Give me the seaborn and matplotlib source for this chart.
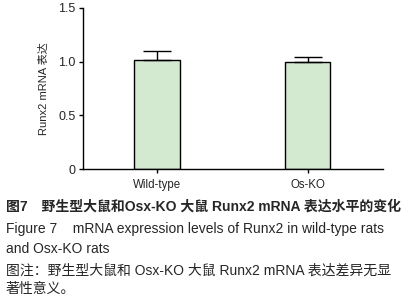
import matplotlib
matplotlib.use("Agg")
import matplotlib.pyplot as plt
import seaborn as sns
import pandas as pd

groups = ["Wild-type", "Os-KO"]
means = [1.01, 1.00]
sds = [0.085, 0.045]

sns.set_theme(style="ticks")
plt.rcParams["font.family"] = ["Liberation Sans", "Noto Sans CJK SC", "DejaVu Sans"]

df = pd.DataFrame({"group": groups, "value": means})

fig = plt.figure(figsize=(4.13, 3.06), dpi=100)
ax = fig.add_axes([0.2, 0.447, 0.727, 0.528])

sns.barplot(data=df, x="group", y="value", color="#d3e9d0", width=0.3,
            edgecolor="black", linewidth=1.0, saturation=1, ax=ax)
ax.errorbar(range(len(groups)), means, yerr=[[0] * len(sds), sds], fmt="none",
            ecolor="black", elinewidth=1.0, capsize=10, capthick=1.0)

ax.set_ylim(0, 1.5)
ax.set_xlim(-0.493, 1.497)
ax.set_yticks([0, 0.5, 1.0, 1.5])
ax.set_yticklabels(["0", "0.5", "1.0", "1.5"])
ax.set_xlabel("")
ax.set_ylabel("Runx2 mRNA 表达", fontsize=8, labelpad=7)
ax.tick_params(axis="y", labelsize=9, length=3, width=1, color="black", pad=2)
ax.tick_params(axis="x", labelsize=8.3, length=3, width=1, color="black", pad=4)
for s in ["left", "bottom"]:
    ax.spines[s].set_linewidth(1.0)
    ax.spines[s].set_color("black")
sns.despine(ax=ax)

fig.text(0.014, 1 - 207 / 306, "图7\u3000野生型大鼠和Osx-KO 大鼠 Runx2 mRNA 表达水平的变化",
         fontsize=10, fontweight="bold", va="center")
fig.text(0.014, 1 - 229 / 306, "Figure 7    mRNA expression levels of Runx2 in wild-type rats",
         fontsize=10, va="center")
fig.text(0.014, 1 - 249 / 306, "and Osx-KO rats", fontsize=10, va="center")
fig.text(0.014, 1 - 271 / 306, "图注：野生型大鼠和 Osx-KO 大鼠 Runx2 mRNA 表达差异无显",
         fontsize=10, va="center")
fig.text(0.014, 1 - 289 / 306, "著性意义。", fontsize=10, va="center")

fig.savefig("out.png", dpi=100)
